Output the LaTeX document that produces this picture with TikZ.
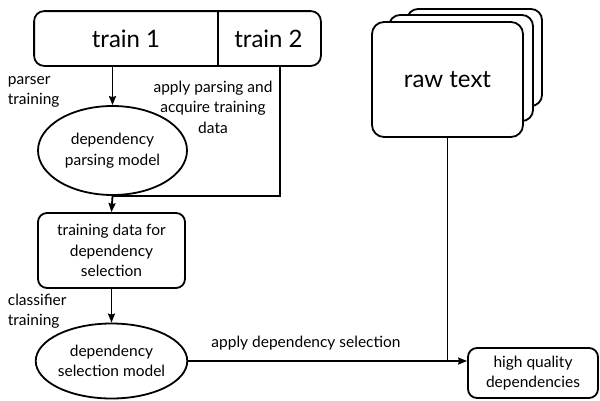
\documentclass[tikz,border=0pt]{standalone}
\usepackage{fontspec}
\setmainfont{Lato}
\usetikzlibrary{shapes.geometric,arrows.meta,calc}
\begin{document}
\begin{tikzpicture}[x=1pt,y=-1pt,
  line width=1.8pt,
  arr/.style={-{Stealth[length=9pt,width=7pt,inset=1pt]}},
  big/.style={font=\fontsize{24}{28}\selectfont},
  txt/.style={font=\fontsize{15.5}{20.5}\selectfont, align=center},
  lbl/.style={font=\fontsize{15.5}{20.5}\selectfont, inner sep=0pt},
  rbox/.style={draw, rounded corners=9pt, fill=white, txt, inner sep=0pt},
  oval/.style={draw, ellipse, txt, inner sep=0pt}]
\useasboundingbox (0,0) rectangle (600,400);

% split training set
\node[big, minimum width=182pt, minimum height=53pt, inner sep=0pt] (train1) at (126,38.5) {train 1};
\node[big, minimum width=103pt, minimum height=53pt, inner sep=0pt] (train2) at (268.5,38.5) {train 2};
\draw[rounded corners=10pt] (train1.north west) rectangle (train2.south east);
\draw (train1.north east) -- (train1.south east);
\coordinate (t2out) at (280,65);

% stacked raw text sheets
\draw[rounded corners=11pt, fill=white] (407,9) rectangle (542,106);
\draw[rounded corners=11pt, fill=white] (389,15) rectangle (533,121);
\node[rbox, big, rounded corners=12pt, minimum width=151pt, minimum height=115pt] (raw) at (447.5,79.5) {raw text};

% pipeline nodes
\node[oval, minimum width=149pt, minimum height=89pt] (pmodel) at (112.5,150.5) {dependency\\parsing model};
\node[rbox, minimum width=147pt, minimum height=75pt] (tdata) at (111.5,250.5) {training data for\\dependency\\selection};
\node[oval, minimum width=147pt, minimum height=75pt] (smodel) at (111.5,361) {dependency\\selection model};
\node[rbox, minimum width=130pt, minimum height=50pt] (hq) at (533,373) {high quality\\dependencies};

% connectors
\draw[arr] (pmodel.north |- train1.south) -- (pmodel.north);
\draw[arr] (t2out) |- (pmodel.south) -- (tdata.north);
\draw[arr] (tdata.south) -- (smodel.north);
\coordinate (join) at (raw.south |- smodel.east);
\draw[arr] (smodel.east) -- (smodel.east -| hq.west);
\draw (raw.south) -- (join);

% edge labels
\node[lbl, anchor=west, align=left] (lparse) at (7,92) {parser\\training};
\node[lbl, align=center] (lapply) at (213,107) {apply parsing and\\acquire training\\data};
\node[lbl, anchor=west, align=left] (lclass) at (7,311) {classifier\\training};
\node[lbl] (lsel) at (306,343) {apply dependency selection};
\end{tikzpicture}
\end{document}
